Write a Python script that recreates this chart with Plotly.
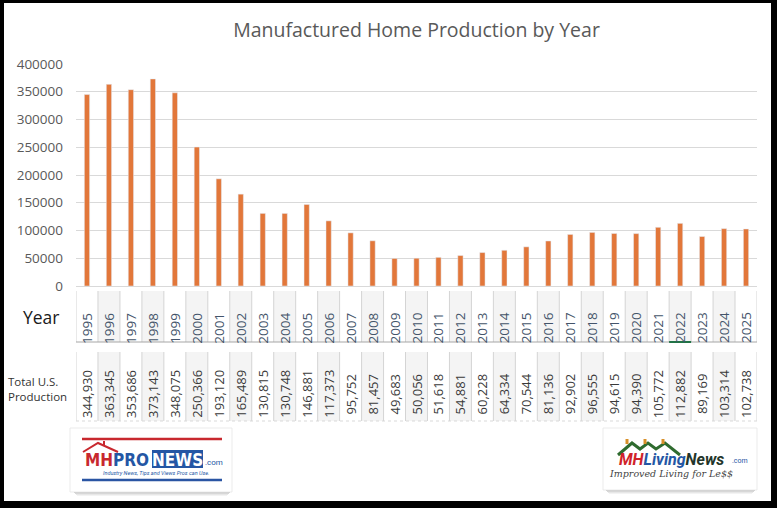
import plotly.graph_objects as go

# ---------------- data ----------------
years = [str(y) for y in range(1995, 2026)]
production = [344930, 363345, 353686, 373143, 348075, 250366, 193120, 165489,
              130815, 130748, 146881, 117373, 95752, 81457, 49683, 50056,
              51618, 54881, 60228, 64334, 70544, 81136, 92902, 96555,
              94615, 94390, 105772, 112882, 89169, 103314, 102738]
y_ticks = [0, 50000, 100000, 150000, 200000, 250000, 300000, 350000, 400000]
title_text = "Manufactured Home Production by Year"
row_label_year = "Year"
row_label_prod = "Total U.S.<br>Production"
selected_year = "2022"

# ---------------- geometry helpers ----------------
W_IMG, H_IMG = 777, 508
L, R, T, B = 76, 757, 64, 286
PW, PH = R - L, B - T


def px(x):
    return (x - L) / PW


def py(y):
    return (B - y) / PH


FONT = "Open Sans"
BAR_COLOR = "#e2773a"

fig = go.Figure()
fig.add_trace(go.Bar(x=years, y=production, marker_color=BAR_COLOR,
                     width=0.24, hoverinfo="x+y"))

shapes = []
annotations = []

n = len(years)
# alternating column shading
for i in range(n):
    if i % 2 == 1:
        for (y0, y1) in [(291, 342), (352, 421)]:
            shapes.append(dict(type="rect", xref="x", yref="paper",
                               x0=i - 0.5, x1=i + 0.5, y0=py(y1), y1=py(y0),
                               fillcolor="#f4f4f4", line_width=0, layer="below"))
# vertical cell lines
for i in range(n + 1):
    for (y0, y1) in [(291, 342), (352, 421)]:
        shapes.append(dict(type="line", xref="x", yref="paper",
                           x0=i - 0.5, x1=i - 0.5, y0=py(y0), y1=py(y1),
                           line=dict(color="#d4d4d4", width=1)))
# year row bottom line
shapes.append(dict(type="line", xref="x", yref="paper", x0=-0.5, x1=n - 0.5,
                   y0=py(342), y1=py(342), line=dict(color="#a6a6a6", width=1)))
# production row bottom dotted line
shapes.append(dict(type="line", xref="x", yref="paper", x0=-0.5, x1=n - 0.5,
                   y0=py(421), y1=py(421), line=dict(color="#d9d9d9", width=1, dash="dot")))
# selected cell green underline
si = years.index(selected_year)
shapes.append(dict(type="line", xref="x", yref="paper", x0=si - 0.5, x1=si + 0.5,
                   y0=py(342), y1=py(342), line=dict(color="#217346", width=2)))

# table texts
for i, (yr, v) in enumerate(zip(years, production)):
    annotations.append(dict(x=i, y=py(328), xref="x", yref="paper", text=yr,
                            textangle=-90, showarrow=False,
                            xanchor="center", yanchor="middle",
                            font=dict(family=FONT, size=13.5, color="#44546a")))
    annotations.append(dict(x=i, y=py(394), xref="x", yref="paper", text=f"{v:,}",
                            textangle=-90, showarrow=False,
                            xanchor="center", yanchor="middle",
                            font=dict(family=FONT, size=13, color="#3a3a3a")))

annotations.append(dict(x=px(41), y=py(317), xref="paper", yref="paper",
                        text=row_label_year, showarrow=False,
                        xanchor="center", yanchor="middle",
                        font=dict(family=FONT, size=17.5, color="#1a1a1a")))
annotations.append(dict(x=px(6), y=py(389), xref="paper", yref="paper",
                        text=row_label_prod, showarrow=False, xanchor="left",
                        yanchor="middle", align="left",
                        font=dict(family=FONT, size=11.5, color="#333333")))


# ---------------- helpers for logos ----------------
def rect(x0, y0, x1, y1, fill, line="rgba(0,0,0,0)", lw=0, opacity=1):
    return dict(type="rect", xref="paper", yref="paper", x0=px(x0), x1=px(x1),
                y0=py(y1), y1=py(y0), fillcolor=fill, opacity=opacity,
                line=dict(color=line, width=lw))


def hline(x0, x1, y, color, w):
    return dict(type="line", xref="paper", yref="paper", x0=px(x0), x1=px(x1),
                y0=py(y), y1=py(y), line=dict(color=color, width=w))


def path(pts, color, w):
    d = "M " + " L ".join(f"{px(a)},{py(b)}" for a, b in pts)
    return dict(type="path", xref="paper", yref="paper", path=d,
                line=dict(color=color, width=w))


def txt(x, y, s, size, color, family="Roboto", anchor="center"):
    return dict(x=px(x), y=py(y), xref="paper", yref="paper", text=s,
                showarrow=False, xanchor=anchor, yanchor="middle",
                font=dict(family=family, size=size, color=color))


# shadows
for k, op in enumerate([0.35, 0.25, 0.15, 0.08]):
    shapes.append(rect(74 + k, 492 + k, 230 - k, 493 + k, "#606060", opacity=op))
    shapes.append(rect(606 + k, 490 + k, 755 - k, 491 + k, "#606060", opacity=op))

# ---------------- logo 1 : MHPRONEWS ----------------
RED, BLUE = "#c8282e", "#2456a4"
shapes.append(rect(70, 428, 232, 492, "white", "#e6e6e6", 0.8))
shapes.append(hline(82, 222, 439, RED, 2.5))
shapes.append(hline(82, 222, 480, "#2a55a3", 2.5))
shapes.append(path([(83, 452), (98, 443), (118, 452)], RED, 2))
shapes.append(path([(104, 446), (104, 441)], RED, 2))
shapes.append(rect(152, 450, 203, 468, BLUE))
NARROW = "Liberation Sans Narrow, DejaVu Sans Condensed, Roboto Condensed, Roboto"
annotations.append(txt(151, 460, f"<b><span style='color:{RED}'>MH</span>"
                                 f"<span style='color:{BLUE}'>PRO</span></b>",
                       17, BLUE, NARROW, anchor="right"))
annotations.append(txt(177.5, 460, "<b>NEWS</b>", 17, "white", NARROW))
annotations.append(txt(213.5, 462, ".com", 8, BLUE, "Roboto"))
annotations.append(txt(156, 473, "<i>Industry News, Tips and Views Pros can Use.</i>", 5.5,
                       BLUE, "Roboto"))

# ---------------- logo 2 : MHLivingNews ----------------
shapes.append(rect(603, 428, 757, 490, "white", "#e6e6e6", 0.8))
shapes.append(path([(618, 455), (632, 443), (640, 449), (648, 443), (656, 449),
                    (665, 443), (680, 455)], "#2f6b2f", 3))
for cx in [627, 645, 663]:
    shapes.append(rect(cx - 1.5, 439, cx + 1.5, 444, "#d8902a"))
annotations.append(txt(617, 459,
                       "<b><i><span style='color:#d0232a'>MH</span>"
                       "<span style='color:#2456a4'>Living</span>"
                       "<span style='color:#23352a'>News</span></i></b>",
                       16, "#23352a", "Roboto", anchor="left"))
annotations.append(txt(730, 461, ".com", 7, BLUE, "Roboto", anchor="left"))
annotations.append(txt(671, 473, "<i>Improved Living for Le$$</i>", 9.5, "#444444",
                       "DejaVu Serif"))

# ---------------- black frame ----------------
fr = dict(xref="paper", yref="paper", fillcolor="black", line_width=0)
shapes.append(dict(type="rect", x0=px(-10), x1=px(4), y0=py(600), y1=py(-10), **fr))
shapes.append(dict(type="rect", x0=px(-10), x1=px(790), y0=py(3), y1=py(-10), **fr))
shapes.append(dict(type="rect", x0=px(771), x1=px(790), y0=py(600), y1=py(-10), **fr))
shapes.append(dict(type="rect", x0=px(-10), x1=px(790), y0=py(600), y1=py(501), **fr))

fig.update_layout(
    width=W_IMG, height=H_IMG,
    margin=dict(l=L, r=W_IMG - R, t=T, b=H_IMG - B, pad=0),
    paper_bgcolor="white", plot_bgcolor="white",
    showlegend=False,
    title=dict(text=title_text, x=0.5, xref="paper", xanchor="center",
               y=1 - 30 / H_IMG, yanchor="middle",
               font=dict(family=FONT, size=19.5, color="#595959")),
    xaxis=dict(type="category", range=[-0.5, n - 0.5], showticklabels=False,
               showgrid=False, zeroline=False, showline=False, ticks=""),
    yaxis=dict(range=[0, 400000], tickvals=y_ticks, ticktext=[str(v) for v in y_ticks],
               showgrid=True, gridcolor="#d9d9d9", gridwidth=1,
               zeroline=True, zerolinecolor="#d9d9d9", zerolinewidth=1,
               showline=False, ticks="", ticklabelstandoff=12,
               tickfont=dict(family=FONT, size=13.5, color="#595959")),
    shapes=shapes, annotations=annotations,
)

fig.write_html("out.html", config={"displayModeBar": False},
               post_script="document.body.style.margin='0px';document.body.style.overflow='hidden';")
